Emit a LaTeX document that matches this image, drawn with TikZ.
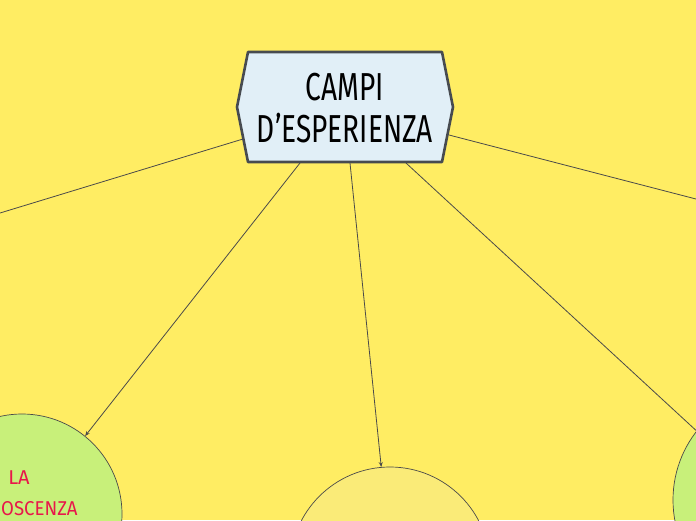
\documentclass[tikz,border=0pt]{standalone}
\usepackage{fontspec}
\setmainfont{Fira Sans}
\usetikzlibrary{arrows.meta}
\definecolor{bgyellow}{HTML}{FFED63}
\definecolor{hexfill}{HTML}{E1EFF7}
\definecolor{hexline}{HTML}{474B50}
\definecolor{greenfill}{HTML}{C8F07A}
\definecolor{paleyellow}{HTML}{FAEB78}
\definecolor{redtext}{HTML}{E8174A}
\definecolor{linkgray}{HTML}{4A4A4A}
\tikzset{
  hexbox/.style={draw=hexline, line width=2.6pt, fill=hexfill, line join=round},
  topic/.style={circle, draw=linkgray, line width=0.7pt, minimum size=200pt, inner sep=0pt},
  link/.style={draw=linkgray, line width=0.8pt},
  arrowlink/.style={link, -{Stealth[length=5pt,width=4pt]}},
  titletext/.style={font=\fontsize{39}{44}\selectfont, text=black, align=center},
  topictext/.style={font=\fontsize{20}{24}\selectfont, text=redtext}
}
\begin{document}
\begin{tikzpicture}[x=1pt,y=-1pt]
\path[fill=bgyellow, use as bounding box] (0,0) rectangle (696,520);
\begin{scope}
\clip (0,0) rectangle (696,520);
% topic circles
\node[topic, fill=greenfill] (left) at (22,514) {};
\node[topic, fill=paleyellow] (mid) at (390,567) {};
\node[topic, fill=greenfill, minimum size=224pt] (right) at (785,500) {};
% off-canvas targets
\coordinate (offL) at (0,213);
\coordinate (offR) at (696,199);
% hexagon
\coordinate (h1) at (248,52);
\coordinate (h2) at (442,52);
\coordinate (h3) at (453,107);
\coordinate (h4) at (442,162);
\coordinate (h5) at (248,162);
\coordinate (h6) at (237,107);
\coordinate (sL) at (243,139);
\coordinate (sR) at (449,135);
\coordinate (s1) at (300,163);
\coordinate (s2) at (350,163);
\coordinate (s3) at (406,163);
\draw[link] (sL) -- (offL);
\draw[link] (sR) -- (offR);
\draw[arrowlink] (s1) -- (left.{51.3});
\draw[arrowlink] (s2) -- (mid.{95.1});
\draw[link] (s3) -- (right.{142.5});
\draw[hexbox] (h1) -- (h2) -- (h3) -- (h4) -- (h5) -- (h6) -- cycle;
\node[titletext] (title) at (345,87) {\scalebox{0.72}[1]{CAMPI}};
\node[titletext] (title2) at (345,128) {\scalebox{0.72}[1]{D'ESPERIENZA}};
\node[topictext] (la) at (19,478) {LA};
\node[topictext, anchor=west, inner sep=0pt] (osc) at (1,509) {\scalebox{0.93}[1]{OSCENZA}};
\end{scope}
\end{tikzpicture}
\end{document}
